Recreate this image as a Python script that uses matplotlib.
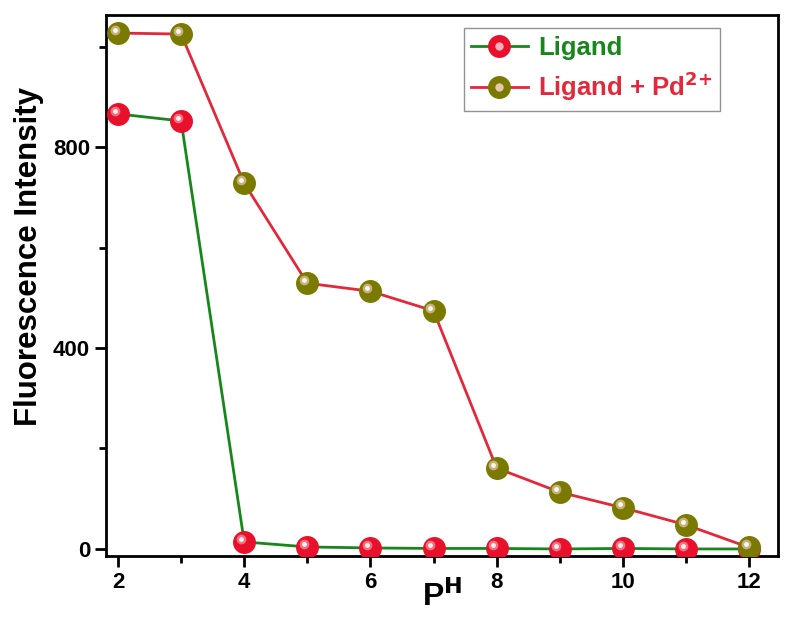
import matplotlib
matplotlib.use('Agg')
import matplotlib.pyplot as plt
from matplotlib.transforms import offset_copy
from matplotlib.ticker import MultipleLocator

# pH values and fluorescence intensities
ph = [2, 3, 4, 5, 6, 7, 8, 9, 10, 11, 12]
ligand = [866, 852, 14, 4, 2, 1, 1, 0, 1, 0, 0]
ligand_pd = [1027, 1025, 728, 529, 513, 474, 161, 113, 82, 48, 3]

plt.rcParams['font.family'] = ['Liberation Sans', 'DejaVu Sans']
plt.rcParams['font.weight'] = 'bold'
plt.rcParams['mathtext.default'] = 'bf'

fig = plt.figure(figsize=(7.87, 6.19), dpi=100)
ax = fig.add_axes([0.1347, 0.1018, 0.854, 0.874])

green = '#17871c'
red = '#e2283a'
ball_red = '#e8102a'
ball_olive = '#7a7a00'


def sphere(x, y, color, light, zorder):
	# base ball plus a small highlight shifted up-left, to fake the 3D look
	ax.plot(x, y, 'o', ms=15.5, color=color, mec=color, zorder=zorder)
	tr = offset_copy(ax.transData, fig=fig, x=-2.4, y=2.4, units='points')
	ax.plot(x, y, 'o', ms=7, color=light, mec='none', alpha=0.7, transform=tr, zorder=zorder + 0.1)
	ax.plot(x, y, 'o', ms=3.5, color='white', mec='none', alpha=0.9, transform=tr, zorder=zorder + 0.2)


ax.plot(ph, ligand, color=green, lw=2, zorder=2)
ax.plot(ph, ligand_pd, color=red, lw=2, zorder=2)
sphere(ph, ligand, ball_red, '#ff9aa4', 3)
sphere(ph, ligand_pd, ball_olive, '#e8c8b0', 4)

ax.set_xlim(1.81, 12.46)
ax.set_ylim(-14, 1063)
ax.xaxis.set_major_locator(MultipleLocator(2))
ax.xaxis.set_minor_locator(MultipleLocator(1))
ax.yaxis.set_major_locator(MultipleLocator(400))
ax.yaxis.set_minor_locator(MultipleLocator(200))
ax.tick_params(which='both', direction='out', width=2, labelsize=16)
ax.tick_params(which='major', length=8)
ax.tick_params(which='minor', length=5)
for lab in ax.get_xticklabels() + ax.get_yticklabels():
	lab.set_fontweight('bold')
for s in ax.spines.values():
	s.set_linewidth(2)

ax.set_ylabel('Fluorescence Intensity', fontsize=22.5, fontweight='bold')
ax.yaxis.set_label_coords(-0.092, 0.553)
ax.set_xlabel('P$^{H}$', fontsize=23, fontweight='bold', labelpad=-9)

# legend with ball markers
h1 = (plt.Line2D([], [], color=green, lw=2),
	plt.Line2D([], [], ls='none', marker='o', ms=15.5, color=ball_red),
	plt.Line2D([], [], ls='none', marker='o', ms=5, color='#ffb0b8'))
h2 = (plt.Line2D([], [], color=red, lw=2),
	plt.Line2D([], [], ls='none', marker='o', ms=15.5, color=ball_olive),
	plt.Line2D([], [], ls='none', marker='o', ms=5, color='#e8c8b0'))
leg = ax.legend([h1, h2], ['Ligand', 'Ligand + Pd$^{2{+}}$'],
	loc='upper right', bbox_to_anchor=(0.914, 0.976), borderaxespad=0,
	fontsize=18.5, frameon=True, fancybox=False, edgecolor='#777777',
	handlelength=2.2, borderpad=0.3, labelspacing=0.4, handletextpad=0.4)
leg.get_frame().set_linewidth(1)
for txt, c in zip(leg.get_texts(), [green, red]):
	txt.set_color(c)
	txt.set_fontweight('bold')

fig.savefig('out.png', dpi=100)
